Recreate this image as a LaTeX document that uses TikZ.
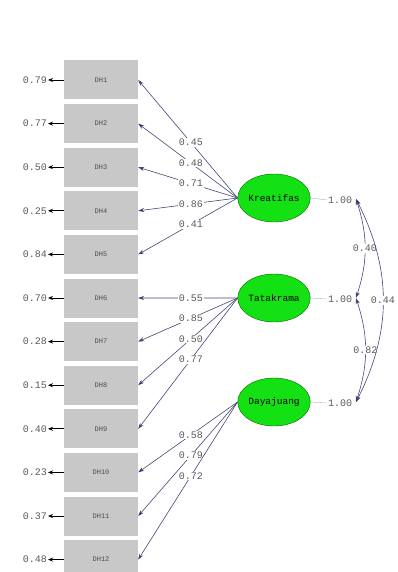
\documentclass[tikz,border=0pt]{standalone}
\usepackage{fontspec}
\setmainfont{Liberation Mono}
\usetikzlibrary{shapes.geometric,arrows.meta}
\definecolor{boxgray}{RGB}{200,200,200}
\definecolor{linec}{RGB}{70,70,120}
\definecolor{latgreen}{RGB}{20,225,20}
\definecolor{numc}{RGB}{90,90,90}
\tikzset{
  obs/.style={fill=boxgray,minimum width=74pt,minimum height=39pt,inner sep=0pt,font=\fontsize{7}{8}\selectfont,text=black!70},
  lat/.style={ellipse,draw=green!40!black,fill=latgreen,minimum width=72pt,minimum height=48pt,inner sep=0pt,font=\fontsize{9.5}{10}\selectfont},
  num/.style={font=\fontsize{10}{11}\selectfont,text=numc,inner sep=1pt},
  lab/.style={num,fill=white},
  ld/.style={draw=linec,line width=0.6pt,-{Stealth[length=6pt,width=4pt,fill=black]}},
  er/.style={draw=black,line width=0.8pt,-{Stealth[length=5pt,width=4pt]}},
  cv/.style={draw=linec,line width=0.6pt,{Stealth[length=6pt,width=4pt,fill=black]}-{Stealth[length=6pt,width=4pt,fill=black]}},
}
\begin{document}
\begin{tikzpicture}[x=1pt,y=-1pt]
\useasboundingbox (0,0) rectangle (398,572);
% observed boxes
\foreach \i/\n in {1/DH1,2/DH2,3/DH3,4/DH4,5/DH5,6/DH6,7/DH7,8/DH8,9/DH9,10/DH10,11/DH11,12/DH12}{
  \node[obs] (b\i) at (101,{80+(\i-1)*43.6}) {\n};
}
% error variances
\foreach \i/\v in {1/0.79,2/0.77,3/0.50,4/0.25,5/0.84,6/0.70,7/0.28,8/0.15,9/0.40,10/0.23,11/0.37,12/0.48}{
  \node[num,anchor=east] (e\i) at (48,{80+(\i-1)*43.6}) {\v};
  \draw[er] (b\i.west) -- (e\i.east);
}
% latent variables
\node[lat] (f1) at (274,198) {Kreatifas};
\node[lat] (f2) at (274,298) {Tatakrama};
\node[lat] (f3) at (274,402) {Dayajuang};
% loadings
\draw[ld] (f1.west) -- node[lab,pos=0.47] {0.45} (b1.east);
\draw[ld] (f1.west) -- node[lab,pos=0.47] {0.48} (b2.east);
\draw[ld] (f1.west) -- node[lab,pos=0.47] {0.71} (b3.east);
\draw[ld] (f1.west) -- node[lab,pos=0.47] {0.86} (b4.east);
\draw[ld] (f1.west) -- node[lab,pos=0.47] {0.41} (b5.east);
\draw[ld] (f2.west) -- node[lab,pos=0.47] {0.55} (b6.east);
\draw[ld] (f2.west) -- node[lab,pos=0.47] {0.85} (b7.east);
\draw[ld] (f2.west) -- node[lab,pos=0.47] {0.50} (b8.east);
\draw[ld] (f2.west) -- node[lab,pos=0.47] {0.77} (b9.east);
\draw[ld] (f3.west) -- node[lab,pos=0.47] {0.58} (b10.east);
\draw[ld] (f3.west) -- node[lab,pos=0.47] {0.79} (b11.east);
\draw[ld] (f3.west) -- node[lab,pos=0.47] {0.72} (b12.east);
% latent variances
\node[num] (v1) at (340,200) {1.00};
\node[num] (v2) at (340,299) {1.00};
\node[num] (v3) at (340,403) {1.00};
\draw[draw=gray!60,line width=0.4pt] (f1.east) -- (v1.west);
\draw[draw=gray!60,line width=0.4pt] (f2.east) -- (v2.west);
\draw[draw=gray!60,line width=0.4pt] (f3.east) -- (v3.west);
\coordinate (c1) at (356,199);
\coordinate (c2) at (356,298);
\coordinate (c3) at (356,402);
% correlations
\draw[cv] (c1) to[out=-72,in=72] node[lab,pos=0.5] {0.40} (c2);
\draw[cv] (c2) to[out=-72,in=72] node[lab,pos=0.5] {0.82} (c3);
\draw[cv] (c1) to[out=-63,in=63] node[lab,pos=0.5] {0.44} (c3);
\end{tikzpicture}
\end{document}
